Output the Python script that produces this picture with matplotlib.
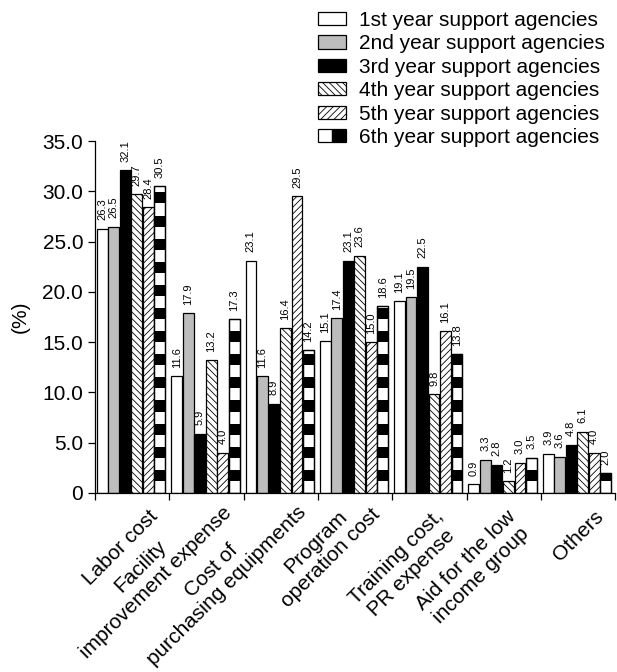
import matplotlib
matplotlib.use("Agg")
import matplotlib.pyplot as plt
import matplotlib.transforms as mtransforms
from matplotlib.font_manager import FontProperties
from matplotlib.patches import Patch
from matplotlib.legend_handler import HandlerTuple
import numpy as np

plt.rcParams['font.family'] = ['Liberation Sans', 'DejaVu Sans']
plt.rcParams['hatch.linewidth'] = 0.6

categories = [
    "Labor cost",
    "Facility\nimprovement expense",
    "Cost of\npurchasing equipments",
    "Program\noperation cost",
    "Training cost,\nPR expense",
    "Aid for the low\nincome group",
    "Others",
]
series_names = [
    "1st year support agencies",
    "2nd year support agencies",
    "3rd year support agencies",
    "4th year support agencies",
    "5th year support agencies",
    "6th year support agencies",
]
year1 = [26.3, 11.6, 23.1, 15.1, 19.1, 0.9, 3.9]
year2 = [26.5, 17.9, 11.6, 17.4, 19.5, 3.3, 3.6]
year3 = [32.1, 5.9, 8.9, 23.1, 22.5, 2.8, 4.8]
year4 = [29.7, 13.2, 16.4, 23.6, 9.8, 1.2, 6.1]
year5 = [28.4, 4.0, 29.5, 15.0, 16.1, 3.0, 4.0]
year6 = [30.5, 17.3, 14.2, 18.6, 13.8, 3.5, 2.0]
yticks = [0, 5, 10, 15, 20, 25, 30, 35]
ytick_labels = ["0", "5.0", "10.0", "15.0", "20.0", "25.0", "30.0", "35.0"]

all_series = [year1, year2, year3, year4, year5, year6]
styles = [
    dict(facecolor="white", hatch=None),
    dict(facecolor="#bdbdbd", hatch=None),
    dict(facecolor="black", hatch=None),
    dict(facecolor="white", hatch="\\\\\\\\\\"),
    dict(facecolor="white", hatch="/////"),
    dict(facecolor="white", hatch=None),
]

fig = plt.figure(figsize=(6.17, 6.72), dpi=100)
ax = fig.add_axes([0.154, 0.2664, 0.843, 0.5236])

x = np.arange(len(categories))
slot = 0.155
width = 0.145
start = 0.098

for k, (vals, st) in enumerate(zip(all_series, styles)):
    pos = x + start + k * slot
    ax.bar(pos, vals, width=width, color=st["facecolor"], edgecolor="black",
           linewidth=0.9, hatch=st["hatch"], zorder=2)
    for px, v in zip(pos, vals):
        ax.annotate(f"{v:.1f}", (px, v), xytext=(0, 6), textcoords="offset points",
                    rotation=90, ha="center", va="bottom", fontsize=8)

# 6th year bars: black bands stacked over the white bar
period, gap = 2.3, 1.2
pos6 = x + start + 5 * slot
for px, v in zip(pos6, year6):
    b = gap
    while b < v:
        top = min(b + (period - gap), v)
        ax.bar(px, top - b, bottom=b, width=width, color="black",
               linewidth=0, zorder=3)
        b += period
ax.bar(pos6, year6, width=width, fill=False, edgecolor="black",
       linewidth=0.9, zorder=4)

ax.set_xlim(0, len(categories))
ax.set_ylim(0, 35)
ax.set_yticks(yticks)
ax.set_yticklabels(ytick_labels, fontsize=15)
ax.set_ylabel("(%)", fontsize=15, labelpad=9)

ax.set_xticks(np.arange(len(categories) + 1))
ax.set_xticklabels([])
ax.tick_params(axis="both", which="major", length=5, width=0.9, direction="out")

for side in ("top", "right"):
    ax.spines[side].set_visible(False)
for side in ("left", "bottom"):
    ax.spines[side].set_linewidth(0.9)

# category labels: rotated, centred lines, aligned on the ink of the longest line
renderer = fig.canvas.get_renderer()
fp = FontProperties(family=['Liberation Sans', 'DejaVu Sans'], size=15)
pitch = 1.2 * 15 * 1.12 * fig.dpi / 72
c45 = np.sqrt(0.5)
base = mtransforms.blended_transform_factory(ax.transData, ax.transAxes)
for xc, lab in zip(x + 0.5, categories):
    lines = lab.split("\n")
    widths = [renderer.get_text_width_height_descent(s, fp, ismath=False)[0] for s in lines]
    W, n = max(widths), len(lines)
    drop = c45 * min(j * pitch + (W - w) / 2 for j, w in enumerate(widths))
    short = c45 * min((n - j - 1) * pitch + (W - w) / 2 for j, w in enumerate(widths))
    dx = (29 + short) / fig.dpi
    dy = (-14 + drop) / fig.dpi
    tr = base + mtransforms.ScaledTranslation(dx, dy, fig.dpi_scale_trans)
    ax.text(xc, 0, lab, transform=tr, rotation=45, ha="right", va="top",
            multialignment="center", fontsize=15, clip_on=False)

handles = []
for st in styles[:5]:
    handles.append(Patch(facecolor=st["facecolor"], edgecolor="black",
                         hatch=st["hatch"], linewidth=0.9))
handles.append((Patch(facecolor="white", edgecolor="black", linewidth=0.9),
                Patch(facecolor="black", edgecolor="black", linewidth=0.9)))

fig.legend(handles, series_names, loc="upper left",
           bbox_to_anchor=(318 / 617, 1 - 11 / 672), frameon=False,
           fontsize=15, borderpad=0, borderaxespad=0, labelspacing=0.21,
           handlelength=1.35, handleheight=0.6, handletextpad=0.6,
           handler_map={tuple: HandlerTuple(ndivide=None, pad=0)})

fig.savefig("out.png", dpi=100)
